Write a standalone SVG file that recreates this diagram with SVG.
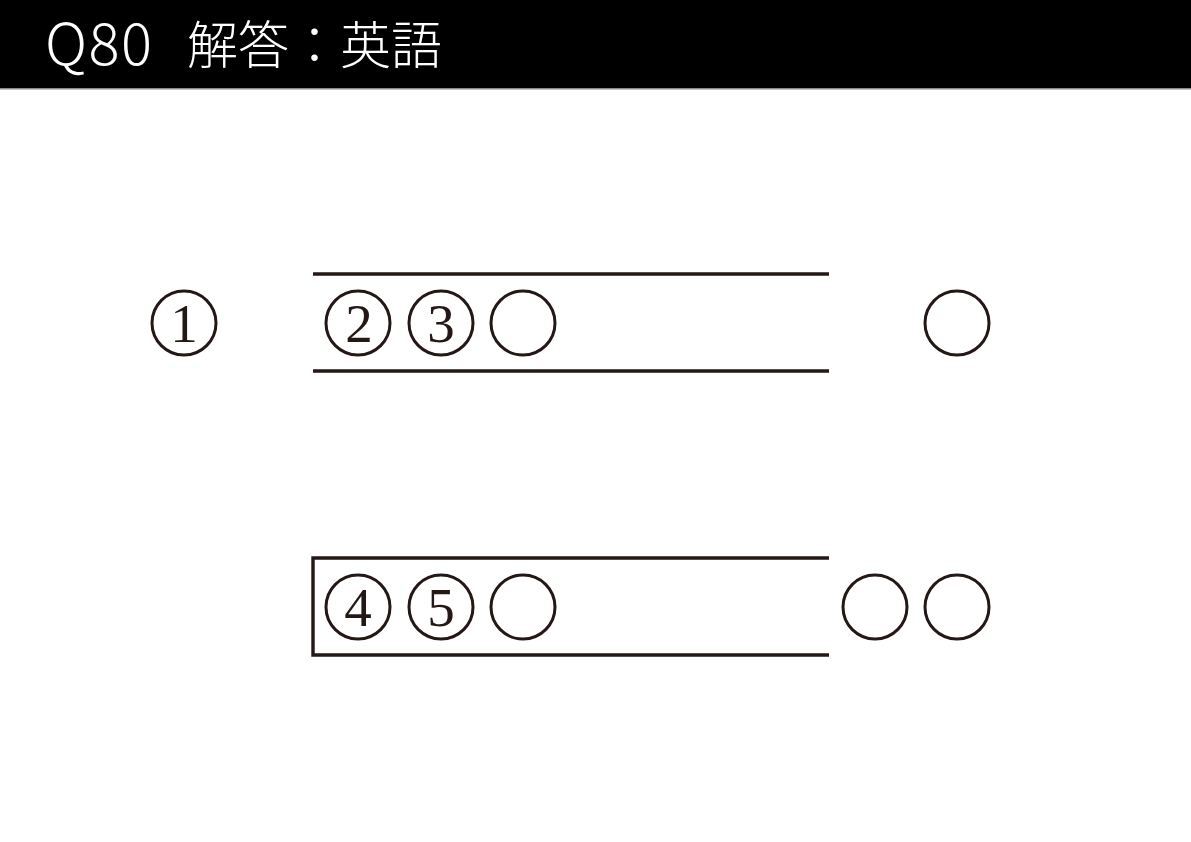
<svg xmlns="http://www.w3.org/2000/svg" width="1191" height="842" viewBox="0 0 1191 842">
<style>
.c{fill:none;stroke:#231815;stroke-width:3}
.l{fill:none;stroke:#231815;stroke-width:3.4}
.n{font-family:"Liberation Serif","DejaVu Serif",serif;font-size:55px;fill:#231815;text-anchor:middle}
.t{fill:#fff}
</style>
<rect x="0" y="0" width="1191" height="88" fill="#000"/>
<rect x="0" y="88" width="1191" height="1.5" fill="#888"/>
<g id="title">
<text class="t" x="45" y="65" font-family="Noto Sans CJK JP, sans-serif" font-size="58" font-weight="300" textLength="107" lengthAdjust="spacing">Q80</text>
<text class="t" x="187" y="64" font-family="Noto Sans CJK JP, sans-serif" font-size="51" font-weight="300">解答：英語</text>
</g>
<g id="connectors">
<path class="l" d="M313 274H829M313 371H829"/>
<path class="l" d="M829 558H313V655H829"/>
</g>
<g id="n1"><circle class="c" cx="184" cy="323" r="32"/><text class="n" x="184" y="342">1</text></g>
<g id="n2"><circle class="c" cx="358" cy="323" r="32"/><text class="n" x="359" y="342">2</text></g>
<g id="n3"><circle class="c" cx="441" cy="323" r="32"/><text class="n" x="441" y="342">3</text></g>
<g id="n3b"><circle class="c" cx="523" cy="323" r="32"/></g>
<g id="n3c"><circle class="c" cx="957" cy="323" r="32"/></g>
<g id="n4"><circle class="c" cx="358" cy="607" r="32"/><text class="n" x="358" y="626">4</text></g>
<g id="n5"><circle class="c" cx="441" cy="607" r="32"/><text class="n" x="441" y="626">5</text></g>
<g id="n5b"><circle class="c" cx="523" cy="607" r="32"/></g>
<g id="n5c"><circle class="c" cx="875" cy="607" r="32"/></g>
<g id="n5d"><circle class="c" cx="957" cy="607" r="32"/></g>
</svg>
